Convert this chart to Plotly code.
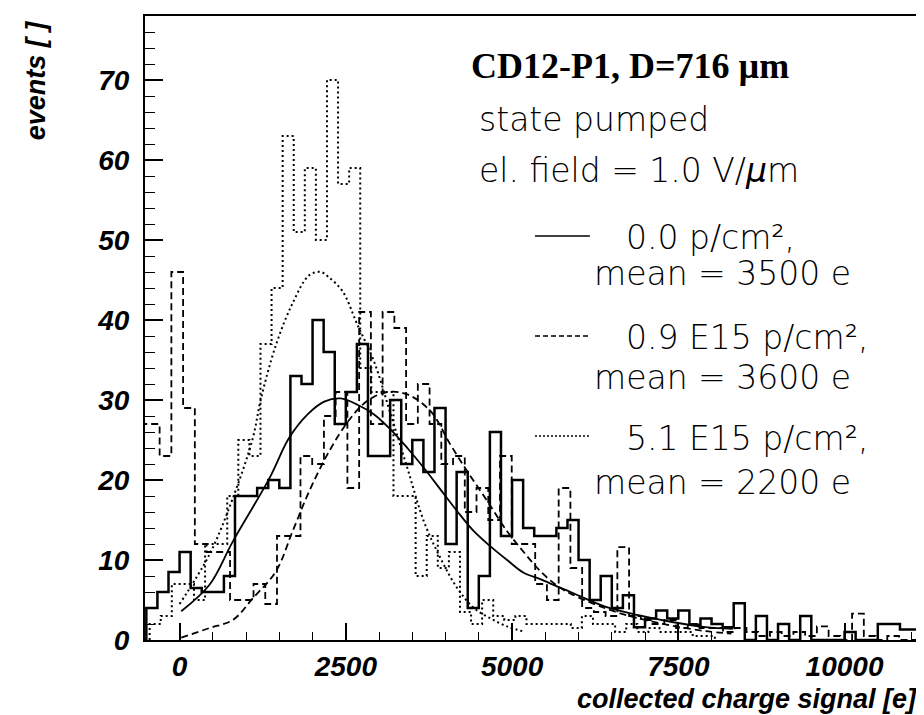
import plotly.graph_objects as go

# ---------------- data ----------------
# histogram: 0.0 p/cm^2 (solid)
solid_start = -500.0
solid_width = 500.0 / 3.0
solid_counts = [4, 6, 8.5, 11, 6.5, 6, 6, 8, 18, 18,
                19, 20, 19, 33, 32, 40, 36, 27, 31, 37,
                23, 23, 30, 22, 25, 21, 29, 12, 21, 4,
                8, 26, 13, 20, 14, 13, 13, 14, 15, 10,
                5, 8, 4, 5.6, 1.6, 2.7, 3.7, 2.7, 3.7, 1.9,
                2.7, 2, 1.6, 4.6, 0, 3, 0, 2, 0, 3,
                0, 0, 0, 1, 0, 0, 2, 2, 1.3, 1.3]

# histogram: 0.9 E15 p/cm^2 (dashed)
dashed_start = -653.0
dashed_width = 176.5
dashed_counts = [27, 27, 23, 46, 29, 12, 11, 11, 5, 5,
                 7, 4.5, 13, 13, 23, 22, 28, 31, 19, 41,
                 27, 41, 39, 27, 32, 27, 22, 23, 16, 19,
                 15, 23, 12, 12, 7, 5, 19, 9, 4, 3.5,
                 3, 11.6, 3, 2.5, 2, 2.5, 1.5, 2, 1.5, 1.5,
                 1, 1.5, 1, 0.5, 1, 0.5, 1, 0.5, 1.7, 0.5,
                 0, 3.3, 0.5, 0, 0.5, 0, 0]

# histogram: 5.1 E15 p/cm^2 (dotted)
dotted_start = -450.0
dotted_width = 500.0 / 3.0
dotted_counts = [2, 3, 7, 7, 5, 12, 12, 18, 25, 23,
                 37, 44, 63, 51, 59, 50, 70, 57, 59, 34,
                 31, 31, 18, 18, 8, 13, 9, 11, 3.5, 2,
                 5, 3, 2.5, 3, 2, 2, 2, 2, 1.5, 3,
                 2, 2, 1, 2, 1, 1.5, 1, 1, 1, 0.5, 0.5]

# fitted curves
solid_fit_x = [25, 450, 800, 1350, 1650, 1925, 2175, 2425, 2675, 2925,
               3175, 3425, 3675, 3925, 4175, 4425, 4675, 4925, 5175, 5425,
               5675, 5880, 6390, 6900, 7405, 7910, 8320]
solid_fit_y = [3.6, 6.9, 12.3, 20.2, 25.3, 28.2, 29.8, 30.2, 29.4, 28.2,
               26.3, 24.0, 21.5, 18.8, 16.1, 13.6, 11.7, 10.0, 8.4, 7.6,
               6.7, 6.0, 4.2, 3.1, 2.25, 1.6, 1.4]

dashed_fit_x = [25, 450, 800, 1100, 1450, 1700, 1950, 2250, 2550, 2825,
                3125, 3425, 3775, 4075, 4325, 4625, 4925, 5175, 5425, 5675,
                5880, 6390, 6900, 7405, 7910, 8300]
dashed_fit_y = [0.3, 1.5, 2.5, 5.2, 8.6, 13.6, 18.6, 23.6, 27.5, 29.9,
                31.0, 30.7, 28.6, 24.4, 21.1, 17.4, 13.6, 11.0, 8.6, 6.8,
                5.8, 4.0, 2.7, 1.8, 1.1, 0.8]

dotted_fit_x = [0, 450, 800, 1100, 1225, 1450, 1700, 1950, 2125, 2250,
                2450, 2675, 2925, 3175, 3425, 3675, 3925, 4175, 4425, 4675,
                4925, 5200]
dotted_fit_y = [4.5, 10.7, 17.7, 25.2, 30.2, 36.9, 42.1, 45.6, 46.0, 45.3,
                43.6, 39.4, 34.8, 28.2, 21.5, 14.8, 10.2, 6.5, 4.0, 2.7,
                1.7, 1.0]

x_tick_vals = [0, 2500, 5000, 7500, 10000]
x_tick_text = ["0", "2500", "5000", "7500", "10000"]
y_tick_vals = [0, 10, 20, 30, 40, 50, 60, 70]
y_tick_text = ["0", "10", "20", "30", "40", "50", "60", "70"]

title_text = "<b>CD12-P1, D=716 µm</b>"
info_lines = ["state pumped", "el. field = 1.0 V/<i>µ</i>m"]
legend_first = ["0.0 p/cm²,", "0.9 E15 p/cm²,", "5.1 E15 p/cm²,"]
legend_second = ["mean = 3500 e", "mean = 3600 e", "mean = 2200 e"]
legend_dash = ["solid", "5px,3px", "2px,2px"]

# ---------------- layout geometry ----------------
W, H = 924, 715
L, R, T, B = 137, 918, 8, 632


def px_x(p):
    return (p - L) / (R - L)


def px_y(p):
    return (B - p) / (B - T)


def outline(start, width, counts):
    xs = [start]
    ys = [0]
    for i, c in enumerate(counts):
        xs.append(start + i * width)
        ys.append(c)
    end = start + len(counts) * width
    xs += [end, end]
    ys += [counts[-1], 0]
    return xs, ys


fig = go.Figure()

hist_specs = [
    (dotted_start, dotted_width, dotted_counts, "2px,3px", 2.0),
    (dashed_start, dashed_width, dashed_counts, "7px,4px", 1.8),
    (solid_start, solid_width, solid_counts, "solid", 2.5),
]
for start, width, counts, dash, lw in hist_specs:
    xs, ys = outline(start, width, counts)
    fig.add_trace(go.Scatter(x=xs, y=ys, mode="lines", line_shape="hv",
                             line=dict(color="black", width=lw, dash=dash),
                             hoverinfo="skip"))

fit_specs = [
    (dotted_fit_x, dotted_fit_y, "2px,3px", 2.0),
    (dashed_fit_x, dashed_fit_y, "7px,4px", 1.8),
    (solid_fit_x, solid_fit_y, "solid", 1.8),
]
for fx, fy, dash, lw in fit_specs:
    fig.add_trace(go.Scatter(x=fx, y=fy, mode="lines", line_shape="spline",
                             line=dict(color="black", width=lw, dash=dash),
                             hoverinfo="skip"))

tick_font = dict(family="Liberation Sans, Arial, sans-serif", size=28,
                 color="black", weight="bold", style="italic")

fig.update_xaxes(range=[-520, 11195], tickmode="array", tickvals=x_tick_vals,
                 ticktext=x_tick_text, ticks="inside", ticklen=17, tickwidth=1.5,
                 tickcolor="black", showline=True, linewidth=2, linecolor="black",
                 mirror=True, showgrid=False, zeroline=False, tickfont=tick_font,
                 ticklabelstandoff=0,
                 minor=dict(tickmode="linear", tick0=0, dtick=500, ticks="inside",
                            ticklen=8, tickwidth=1.2, tickcolor="black",
                            showgrid=False))
fig.update_yaxes(range=[0, 78], tickmode="array", tickvals=y_tick_vals,
                 ticktext=y_tick_text, ticks="inside", ticklen=18, tickwidth=1.5,
                 tickcolor="black", showline=True, linewidth=2, linecolor="black",
                 mirror=True, showgrid=False, zeroline=False, tickfont=tick_font,
                 ticklabelstandoff=8,
                 minor=dict(tickmode="linear", tick0=0, dtick=2, ticks="inside",
                            ticklen=10, tickwidth=1.2, tickcolor="black",
                            showgrid=False))

annotations = []
axis_font = dict(family="Liberation Sans, Arial, sans-serif", size=27,
                 color="black", weight="bold", style="italic")
annotations.append(dict(text="collected charge signal [e]", xref="paper", yref="paper",
                        x=px_x(913), y=px_y(691), xanchor="right", yanchor="middle",
                        showarrow=False, font=axis_font))
annotations.append(dict(text="events [ ]", xref="paper", yref="paper",
                        x=px_x(28), y=px_y(10), xanchor="center", yanchor="top",
                        textangle=-90, showarrow=False, font=axis_font))

annotations.append(dict(text=title_text, xref="paper", yref="paper",
                        x=px_x(462), y=px_y(58), xanchor="left", yanchor="middle",
                        showarrow=False,
                        font=dict(family="Liberation Serif, Times New Roman, serif",
                                  size=36, color="black")))
info_font = dict(family="DejaVu Sans, sans-serif", size=33, color="black",
                 weight=300)
info_y = [112, 162]
for line, yy in zip(info_lines, info_y):
    annotations.append(dict(text=line, xref="paper", yref="paper",
                            x=px_x(470), y=px_y(yy), xanchor="left",
                            yanchor="middle", showarrow=False, font=info_font))

first_y = [230, 330, 430]
second_y = [265, 370, 474]
for i in range(3):
    annotations.append(dict(text=legend_first[i], xref="paper", yref="paper",
                            x=px_x(617), y=px_y(first_y[i]), xanchor="left",
                            yanchor="middle", showarrow=False, font=info_font))
    annotations.append(dict(text=legend_second[i], xref="paper", yref="paper",
                            x=px_x(585), y=px_y(second_y[i]), xanchor="left",
                            yanchor="middle", showarrow=False, font=info_font))

shapes = []
for i in range(3):
    yy = first_y[i] - 2
    shapes.append(dict(type="line", xref="paper", yref="paper",
                       x0=px_x(528), x1=px_x(583), y0=px_y(yy), y1=px_y(yy),
                       line=dict(color="black", width=1.6, dash=legend_dash[i])))

fig.update_layout(width=W, height=H, margin=dict(l=L, r=W - R, t=T, b=H - B),
                  plot_bgcolor="white", paper_bgcolor="white", showlegend=False,
                  annotations=annotations, shapes=shapes)

fig.write_html("out.html")
